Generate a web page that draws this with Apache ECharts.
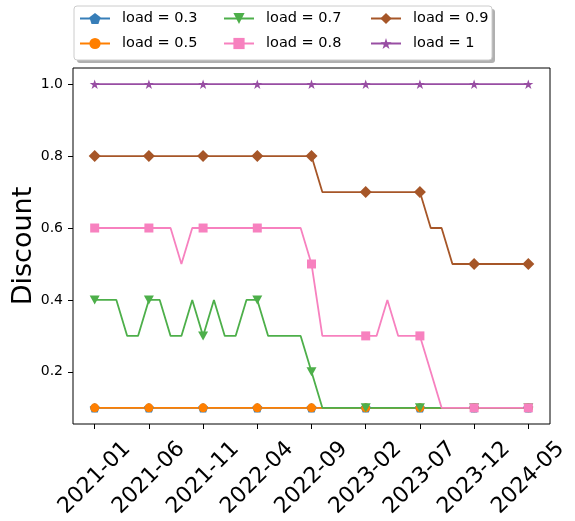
<!DOCTYPE html>
<html>
<head>
<meta charset="utf-8">
<script src="https://cdn.jsdelivr.net/npm/echarts@6/dist/echarts.min.js"></script>
<style>html,body{margin:0;padding:0;background:#fff}#c{width:575px;height:521px}</style>
</head>
<body>
<div id="c"></div>
<script>
var months = ['2021-01','2021-02','2021-03','2021-04','2021-05','2021-06','2021-07','2021-08','2021-09','2021-10',
  '2021-11','2021-12','2022-01','2022-02','2022-03','2022-04','2022-05','2022-06','2022-07','2022-08',
  '2022-09','2022-10','2022-11','2022-12','2023-01','2023-02','2023-03','2023-04','2023-05','2023-06',
  '2023-07','2023-08','2023-09','2023-10','2023-11','2023-12','2024-01','2024-02','2024-03','2024-04','2024-05'];
var tickIndex = [0,5,10,15,20,25,30,35,40];
var yTicks = [0.2,0.4,0.6,0.8,1.0];
var seriesNames = ['load = 0.3','load = 0.5','load = 0.7','load = 0.8','load = 0.9','load = 1'];
var load03 = [0.1,0.1,0.1,0.1,0.1,0.1,0.1,0.1,0.1,0.1,0.1,0.1,0.1,0.1,0.1,0.1,0.1,0.1,0.1,0.1,0.1,0.1,0.1,0.1,0.1,0.1,0.1,0.1,0.1,0.1,0.1,0.1,0.1,0.1,0.1,0.1,0.1,0.1,0.1,0.1,0.1];
var load05 = [0.1,0.1,0.1,0.1,0.1,0.1,0.1,0.1,0.1,0.1,0.1,0.1,0.1,0.1,0.1,0.1,0.1,0.1,0.1,0.1,0.1,0.1,0.1,0.1,0.1,0.1,0.1,0.1,0.1,0.1,0.1,0.1,0.1,0.1,0.1,0.1,0.1,0.1,0.1,0.1,0.1];
var load07 = [0.4,0.4,0.4,0.3,0.3,0.4,0.4,0.3,0.3,0.4,0.3,0.4,0.3,0.3,0.4,0.4,0.3,0.3,0.3,0.3,0.2,0.1,0.1,0.1,0.1,0.1,0.1,0.1,0.1,0.1,0.1,0.1,0.1,0.1,0.1,0.1,0.1,0.1,0.1,0.1,0.1];
var load08 = [0.6,0.6,0.6,0.6,0.6,0.6,0.6,0.6,0.5,0.6,0.6,0.6,0.6,0.6,0.6,0.6,0.6,0.6,0.6,0.6,0.5,0.3,0.3,0.3,0.3,0.3,0.3,0.4,0.3,0.3,0.3,0.2,0.1,0.1,0.1,0.1,0.1,0.1,0.1,0.1,0.1];
var load09 = [0.8,0.8,0.8,0.8,0.8,0.8,0.8,0.8,0.8,0.8,0.8,0.8,0.8,0.8,0.8,0.8,0.8,0.8,0.8,0.8,0.8,0.7,0.7,0.7,0.7,0.7,0.7,0.7,0.7,0.7,0.7,0.6,0.6,0.5,0.5,0.5,0.5,0.5,0.5,0.5,0.5];
var load1 = [1,1,1,1,1,1,1,1,1,1,1,1,1,1,1,1,1,1,1,1,1,1,1,1,1,1,1,1,1,1,1,1,1,1,1,1,1,1,1,1,1];

var colors = ['#377eb8','#ff7f00','#4daf4a','#f781bf','#a65628','#984ea3'];
var PENT = 'path://M0,-100L95.1,-30.9L58.8,80.9L-58.8,80.9L-95.1,-30.9Z';
var TRI_DOWN = 'path://M0,0L100,0L50,90Z';
var STAR = 'path://M0,-100L22.45,-30.9L95.1,-30.9L36.33,11.8L58.78,80.9L0,38.2L-58.78,80.9L-36.33,11.8L-95.1,-30.9L-22.45,-30.9Z';
var symbols = [PENT,'circle',TRI_DOWN,'rect','diamond',STAR];
var sizes = [10,9,10,9,12,10];
var values = [load03,load05,load07,load08,load09,load1];

var series = values.map(function(arr, k){
  return {
    name: seriesNames[k],
    type: 'line',
    data: arr.map(function(v,i){return [i,v];}),
    symbol: symbols[k],
    symbolKeepAspect: true,
    symbolSize: function(val, params){ return params.dataIndex % 5 === 0 ? sizes[k] : 0; },
    showAllSymbol: true,
    lineStyle: {color: colors[k], width: 1.8},
    itemStyle: {color: colors[k], borderWidth: 0},
    emphasis: {disabled: true},
    animation: false
  };
});

function legend(names, left){
  return {
    orient: 'vertical', left: left, top: 11, padding: 0,
    data: names, itemWidth: 30, itemHeight: 14, itemGap: 10,
    textStyle: {fontFamily: 'DejaVu Sans', fontSize: 14.5, color: '#000', padding: [0,0,0,7]},
    selectedMode: false
  };
}

var chart = echarts.init(document.getElementById('c'), null, {renderer: 'canvas'});
chart.setOption({
  animation: false,
  backgroundColor: '#fff',
  graphic: [
    {type: 'rect', z: 0, shape: {x: 77, y: 9, width: 418, height: 54, r: 3}, style: {fill: '#b0b0b0'}},
    {type: 'rect', z: 1, shape: {x: 74, y: 6, width: 418, height: 54, r: 3}, style: {fill: '#fff', stroke: '#cccccc', lineWidth: 1}}
  ],
  legend: [
    legend([seriesNames[0], seriesNames[1]], 79),
    legend([seriesNames[2], seriesNames[3]], 223),
    legend([seriesNames[4], seriesNames[5]], 370)
  ],
  grid: {left: 73, right: 25, top: 68, bottom: 97, show: true, borderColor: '#000', borderWidth: 1,
         backgroundColor: 'transparent', containLabel: false, outerBoundsMode: 'none'},
  xAxis: {
    type: 'value', min: -2, max: 42,
    axisLine: {show: false, onZero: false},
    splitLine: {show: false},
    axisTick: {show: true, length: 5, lineStyle: {color: '#000'}, customValues: tickIndex},
    axisLabel: {
      customValues: tickIndex,
      formatter: function(v){ return months[v]; },
      rotate: 45, align: 'center', verticalAlign: 'middle', margin: 54,
      fontFamily: 'DejaVu Sans', fontSize: 22, color: '#000'
    }
  },
  yAxis: {
    type: 'value', min: 0.055, max: 1.045,
    name: 'Discount', nameLocation: 'middle', nameGap: 36, nameRotate: 90, nameMoveOverlap: false,
    nameTextStyle: {fontFamily: 'DejaVu Sans', fontSize: 27, color: '#000'},
    axisLine: {show: false, onZero: false},
    splitLine: {show: false},
    axisTick: {show: true, length: 5, lineStyle: {color: '#000'}, customValues: yTicks},
    axisLabel: {
      customValues: yTicks,
      formatter: function(v){ return v.toFixed(1); },
      margin: 10, fontFamily: 'DejaVu Sans', fontSize: 14, color: '#000'
    }
  },
  series: series
});
</script>
</body>
</html>
